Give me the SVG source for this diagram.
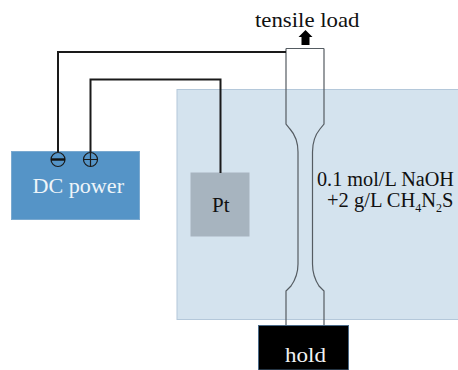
<svg xmlns="http://www.w3.org/2000/svg" width="458" height="370" viewBox="0 0 458 370">
<style>
text{font-family:"Liberation Serif","DejaVu Serif",serif;font-size:21px;fill:#111}
.w{fill:none;stroke:#1a1a1a;stroke-width:2}
.s{fill:none;stroke:#555c62;stroke-width:1.2}
.t{fill:none;stroke:#1a1a1a;stroke-width:1.2}
</style>
<rect width="458" height="370" fill="#fff"/>
<g id="tank"><rect x="177" y="89.500" width="282" height="230" fill="#d4e3ee" stroke="#b4c8da" stroke-width="1"/></g>
<g id="specimen"><path class="s" d="M286 48.500V124L290 129Q298 138 298 152V264Q298 276 291 286L286 291V325"/><path class="s" d="M324 48.500V124L320 129Q312.500 138 312.500 152V264Q312.500 276 319 286L324 291V325"/><path class="s" d="M286 48.500H324"/></g>
<g id="dc-power"><rect x="11.500" y="151.500" width="128" height="68" fill="#5594c7" stroke="#7aa9d0" stroke-width="1"/><text x="32.500" y="193" textLength="91.500" lengthAdjust="spacingAndGlyphs" style="fill:#eef4f9">DC power</text>
<circle class="t" cx="58" cy="159.500" r="7"/><path d="M51 159.500H65" stroke="#111" stroke-width="2.400"/>
<circle class="t" cx="90.500" cy="159.500" r="7"/><path class="t" d="M83.500 159.500H97.500M90.500 152.500V166.500"/></g>
<g id="pt"><rect x="190.500" y="172.500" width="59" height="64" fill="#a7b4bf"/><text x="212" y="212" style="font-size:21px">Pt</text></g>
<g id="connectors"><path class="w" d="M58 152V52H286"/><path class="w" d="M90.500 152V79.500H220.500V173"/>
<path d="M305.500 30L312.500 37H309.500V45H301.500V37H298.500Z" fill="#000"/></g>
<g id="hold"><rect x="258.500" y="325.500" width="90" height="44.500" fill="#000" stroke="#4a6a88" stroke-width="1"/><text x="285" y="362" textLength="41" lengthAdjust="spacingAndGlyphs" style="fill:#f2f2f2">hold</text></g>
<g id="labels"><text x="255" y="27" textLength="104.500" lengthAdjust="spacingAndGlyphs">tensile load</text>
<text x="317" y="186" font-size="20" style="font-size:20px" textLength="137" lengthAdjust="spacingAndGlyphs">0.1 mol/L NaOH</text>
<text x="327" y="207" style="font-size:20.500px">+2 g/L CH<tspan dy="5" font-size="12">4</tspan><tspan dy="-5">N</tspan><tspan dy="5" font-size="12">2</tspan><tspan dy="-5">S</tspan></text></g>
</svg>
